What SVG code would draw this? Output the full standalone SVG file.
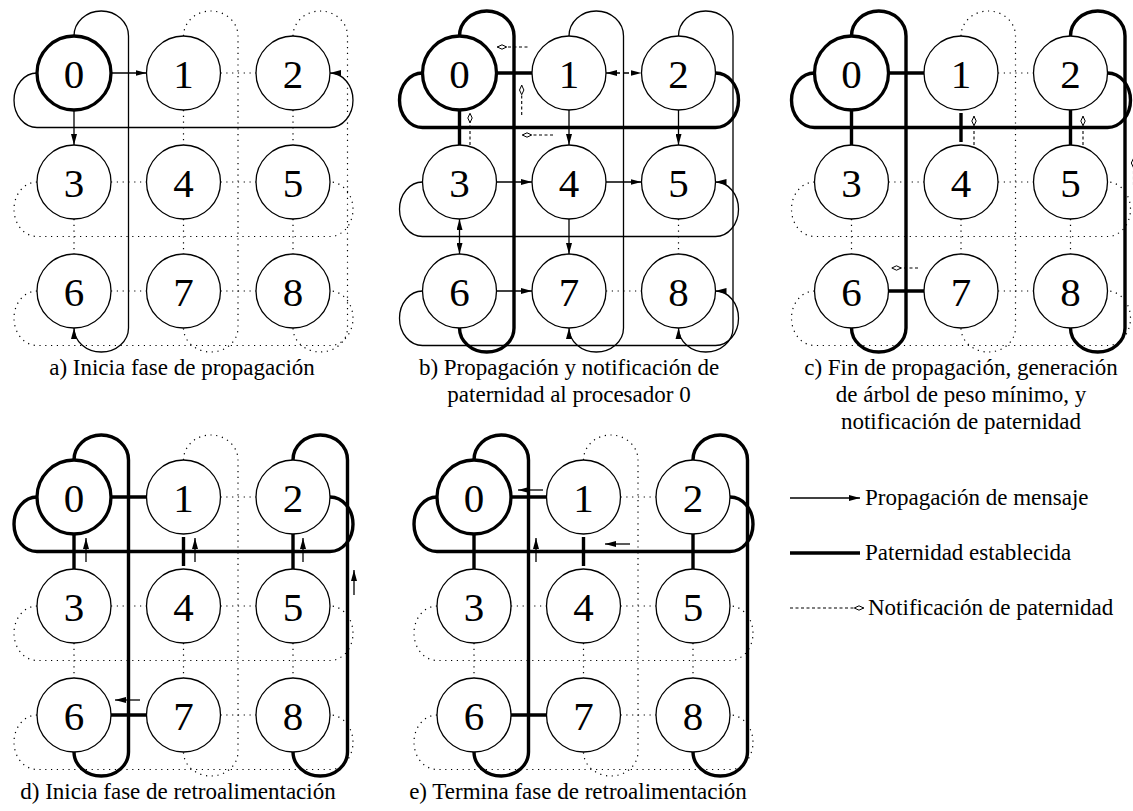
<svg xmlns="http://www.w3.org/2000/svg" width="1133" height="811" viewBox="0 0 1133 811">
  <defs>
    <style>
      .nd { fill: #fff; stroke: #000; stroke-width: 1.3; }
      .root { fill: #fff; stroke: #000; stroke-width: 3.3; }
      .num { font-family: "Liberation Serif", "Times New Roman", serif; font-size: 41px; text-anchor: middle; fill: #000; }
      .cap { font-family: "Liberation Serif", "Times New Roman", serif; font-size: 23px; fill: #000; }
      .mid { text-anchor: middle; }
      .dot { fill: none; stroke: #000; stroke-width: 1.2; stroke-dasharray: 1.2 4.6; }
      .thin { fill: none; stroke: #000; stroke-width: 1.3; }
      .thick { fill: none; stroke: #000; stroke-width: 3.4; }
      .note { fill: none; stroke: #000; stroke-width: 1.1; stroke-dasharray: 3 2.5; }
      .arr { marker-end: url(#ah); }
      .arr2 { marker-start: url(#ah); marker-end: url(#ah); }
      .dia { marker-end: url(#dm); }
    </style>
    <marker id="ah" viewBox="0 0 11 6" refX="11" refY="3" markerWidth="11" markerHeight="6" markerUnits="userSpaceOnUse" orient="auto-start-reverse">
      <path d="M0,0 L11,3 L0,6 z" fill="#000"/>
    </marker>
    <marker id="dm" viewBox="0 0 11 6" refX="10.5" refY="3" markerWidth="11" markerHeight="6" markerUnits="userSpaceOnUse" orient="auto">
      <path d="M0.8,3 L5.5,0.8 L10.2,3 L5.5,5.2 z" fill="#fff" stroke="#000" stroke-width="1"/>
    </marker>

    <!-- unit mesh geometry, local to one panel -->
    <path id="h01r0" d="M111,73 L146.5,73"/>
    <path id="h12r0" d="M220.5,73 L256,73"/>
    <path id="h01r1" d="M111,182 L146.5,182"/>
    <path id="h12r1" d="M220.5,182 L256,182"/>
    <path id="h01r2" d="M111,291 L146.5,291"/>
    <path id="h12r2" d="M220.5,291 L256,291"/>
    <path id="v01c0" d="M74,110 L74,145"/>
    <path id="v12c0" d="M74,219 L74,254"/>
    <path id="v01c1" d="M183.5,110 L183.5,145"/>
    <path id="v12c1" d="M183.5,219 L183.5,254"/>
    <path id="v01c2" d="M293,110 L293,145"/>
    <path id="v12c2" d="M293,219 L293,254"/>
    <path id="wr0" d="M37,73 A23 27.25 0 0 0 37,127.5 L330,127.5 A23 27.25 0 0 0 330,73"/>
    <path id="wr1" d="M37,182 A23 27.25 0 0 0 37,236.5 L330,236.5 A23 27.25 0 0 0 330,182"/>
    <path id="wr2" d="M37,291 A23 27.25 0 0 0 37,345.5 L330,345.5 A23 27.25 0 0 0 330,291"/>
    <path id="wc0" d="M74,36 A27.25 25 0 0 1 128.5,36 L128.5,328 A27.25 24 0 0 1 74,328"/>
    <path id="wc1" d="M183.5,36 A27.25 25 0 0 1 238,36 L238,328 A27.25 24 0 0 1 183.5,328"/>
    <path id="wc2" d="M293,36 A27.25 25 0 0 1 347.5,36 L347.5,328 A27.25 24 0 0 1 293,328"/>

    <!-- the nine processors -->
    <g id="mesh">
      <g id="p0"><circle class="root" cx="74" cy="73" r="37"/><text class="num" x="74" y="87.5">0</text></g>
      <g id="p1"><circle class="nd" cx="183.5" cy="73" r="37"/><text class="num" x="183.5" y="87.5">1</text></g>
      <g id="p2"><circle class="nd" cx="293" cy="73" r="37"/><text class="num" x="293" y="87.5">2</text></g>
      <g id="p3"><circle class="nd" cx="74" cy="182" r="37"/><text class="num" x="74" y="196.5">3</text></g>
      <g id="p4"><circle class="nd" cx="183.5" cy="182" r="37"/><text class="num" x="183.5" y="196.5">4</text></g>
      <g id="p5"><circle class="nd" cx="293" cy="182" r="37"/><text class="num" x="293" y="196.5">5</text></g>
      <g id="p6"><circle class="nd" cx="74" cy="291" r="37"/><text class="num" x="74" y="305.5">6</text></g>
      <g id="p7"><circle class="nd" cx="183.5" cy="291" r="37"/><text class="num" x="183.5" y="305.5">7</text></g>
      <g id="p8"><circle class="nd" cx="293" cy="291" r="37"/><text class="num" x="293" y="305.5">8</text></g>
    </g>
  </defs>

  <!-- a) propagation starts -->
  <g id="panel-a">
    <g id="a-connectors">
      <use href="#h12r0" class="dot"/>
      <use href="#h01r1" class="dot"/><use href="#h12r1" class="dot"/>
      <use href="#h01r2" class="dot"/><use href="#h12r2" class="dot"/>
      <use href="#v01c1" class="dot"/><use href="#v01c2" class="dot"/>
      <use href="#v12c0" class="dot"/><use href="#v12c1" class="dot"/><use href="#v12c2" class="dot"/>
      <use href="#wr1" class="dot"/><use href="#wr2" class="dot"/>
      <use href="#wc1" class="dot"/><use href="#wc2" class="dot"/>
      <use href="#h01r0" class="thin arr"/>
      <use href="#v01c0" class="thin arr"/>
      <use href="#wr0" class="thin arr"/>
      <use href="#wc0" class="thin arr"/>
    </g>
    <g id="a-nodes"><use href="#mesh"/></g>
    <text class="cap mid" x="182" y="375">a) Inicia fase de propagación</text>
  </g>

  <!-- b) propagation and parent notification -->
  <g id="panel-b" transform="translate(385.5,0)">
    <g id="b-connectors">
      <use href="#h12r2" class="dot"/>
      <use href="#v12c2" class="dot"/>
      <path d="M220.5,73 L256,73" class="thin arr2" stroke-dasharray="5 4"/>
      <use href="#v01c1" class="thin arr"/>
      <use href="#v01c2" class="thin arr"/>
      <use href="#h01r1" class="thin arr"/>
      <use href="#h12r1" class="thin arr"/>
      <use href="#v12c1" class="thin arr"/>
      <use href="#v12c0" class="thin arr2"/>
      <use href="#h01r2" class="thin arr"/>
      <use href="#wr1" class="thin arr"/>
      <use href="#wr2" class="thin arr"/>
      <use href="#wc1" class="thin arr"/>
      <use href="#wc2" class="thin arr"/>
      <use href="#h01r0" class="thick"/>
      <use href="#v01c0" class="thick"/>
      <use href="#wr0" class="thick"/>
      <use href="#wc0" class="thick"/>
      <path d="M142,47 L111.5,47" class="note dia"/>
      <path d="M136.2,115 L136.2,85" class="note dia"/>
      <path d="M84.5,145 L84.5,113" class="note dia"/>
      <path d="M167.5,135 L136.5,135" class="note dia"/>
    </g>
    <g id="b-nodes"><use href="#mesh"/></g>
    <text class="cap mid" x="183.5" y="375">b) Propagación y notificación de</text>
    <text class="cap mid" x="183.5" y="402">paternidad al procesador 0</text>
  </g>

  <!-- c) end of propagation, minimum weight tree -->
  <g id="panel-c" transform="translate(777.5,0)">
    <g id="c-connectors">
      <use href="#h12r0" class="dot"/>
      <use href="#h01r1" class="dot"/><use href="#h12r1" class="dot"/>
      <use href="#h12r2" class="dot"/>
      <use href="#v12c0" class="dot"/><use href="#v12c1" class="dot"/><use href="#v12c2" class="dot"/>
      <use href="#wr1" class="dot"/><use href="#wr2" class="dot"/>
      <use href="#wc1" class="dot"/>
      <use href="#h01r0" class="thick"/>
      <use href="#v01c0" class="thick"/>
      <path d="M183.5,113 L183.5,142" class="thick"/>
      <use href="#v01c2" class="thick"/>
      <use href="#h01r2" class="thick"/>
      <use href="#wr0" class="thick"/>
      <use href="#wc0" class="thick"/>
      <use href="#wc2" class="thick"/>
      <path d="M196.5,145 L196.5,116" class="note dia"/>
      <path d="M305.5,145 L305.5,116" class="note dia"/>
      <path d="M140.5,268 L114,268" class="note dia"/>
      <path d="M356,185 L356,158" class="note dia"/>
    </g>
    <g id="c-nodes"><use href="#mesh"/></g>
    <text class="cap mid" x="183.5" y="375">c) Fin de propagación, generación</text>
    <text class="cap mid" x="183.5" y="402">de árbol de peso mínimo, y</text>
    <text class="cap mid" x="183.5" y="429">notificación de paternidad</text>
  </g>

  <!-- d) feedback starts -->
  <g id="panel-d" transform="translate(0,424)">
    <g id="d-connectors">
      <use href="#h12r0" class="dot"/>
      <use href="#h01r1" class="dot"/><use href="#h12r1" class="dot"/>
      <use href="#h12r2" class="dot"/>
      <use href="#v12c0" class="dot"/><use href="#v12c1" class="dot"/><use href="#v12c2" class="dot"/>
      <use href="#wr1" class="dot"/><use href="#wr2" class="dot"/>
      <use href="#wc1" class="dot"/>
      <use href="#h01r0" class="thick"/>
      <use href="#v01c0" class="thick"/>
      <path d="M183.5,113 L183.5,142" class="thick"/>
      <use href="#v01c2" class="thick"/>
      <use href="#h01r2" class="thick"/>
      <use href="#wr0" class="thick"/>
      <use href="#wc0" class="thick"/>
      <use href="#wc2" class="thick"/>
      <path d="M86,138 L86,114" class="thin arr"/>
      <path d="M195,138 L195,114" class="thin arr"/>
      <path d="M303,138 L303,114" class="thin arr"/>
      <path d="M354,171 L354,146" class="thin arr"/>
      <path d="M140,276 L115,276" class="thin arr"/>
    </g>
    <g id="d-nodes"><use href="#mesh"/></g>
    <text class="cap mid" x="178" y="375">d) Inicia fase de retroalimentación</text>
  </g>

  <!-- e) feedback ends -->
  <g id="panel-e" transform="translate(400,424)">
    <g id="e-connectors">
      <use href="#h12r0" class="dot"/>
      <use href="#h01r1" class="dot"/><use href="#h12r1" class="dot"/>
      <use href="#h12r2" class="dot"/>
      <use href="#v12c0" class="dot"/><use href="#v12c1" class="dot"/><use href="#v12c2" class="dot"/>
      <use href="#wr1" class="dot"/><use href="#wr2" class="dot"/>
      <use href="#wc1" class="dot"/>
      <use href="#h01r0" class="thick"/>
      <use href="#v01c0" class="thick"/>
      <path d="M183.5,113 L183.5,142" class="thick"/>
      <use href="#v01c2" class="thick"/>
      <use href="#h01r2" class="thick"/>
      <use href="#wr0" class="thick"/>
      <use href="#wc0" class="thick"/>
      <use href="#wc2" class="thick"/>
      <path d="M143,66 L118,66" class="thin arr"/>
      <path d="M136,138 L136,114" class="thin arr"/>
      <path d="M230,120 L205,120" class="thin arr"/>
    </g>
    <g id="e-nodes"><use href="#mesh"/></g>
    <text class="cap mid" x="178" y="375">e) Termina fase de retroalimentación</text>
  </g>

  <!-- legend -->
  <g id="legend">
    <path d="M790,498 L860,498" class="thin arr"/>
    <text class="cap" x="865" y="505">Propagación de mensaje</text>
    <path d="M790,553 L860,553" class="thick"/>
    <text class="cap" x="865" y="560">Paternidad establecida</text>
    <path d="M790,608 L864,608" class="note dia"/>
    <text class="cap" x="868" y="615">Notificación de paternidad</text>
  </g>
</svg>
